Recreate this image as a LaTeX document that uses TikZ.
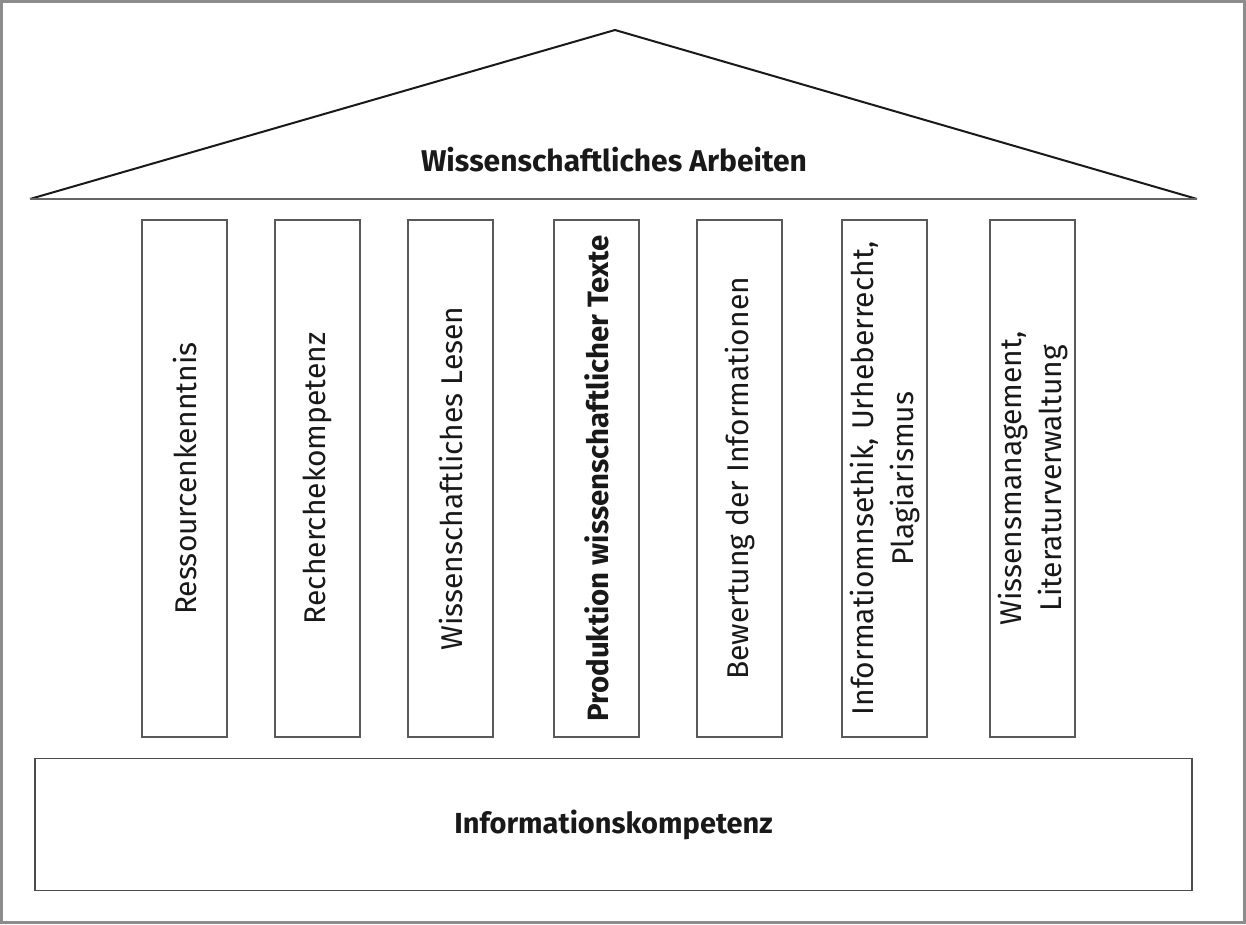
\documentclass[tikz,border=0pt]{standalone}
\usepackage{fontspec}
\setmainfont{Fira Sans}
\begin{document}
\begin{tikzpicture}[x=0.5pt,y=-0.5pt,
  frame/.style={draw=black!45,line width=1.5pt},
  roofline/.style={draw=black!90,line width=1pt,line join=miter},
  pillar/.style={draw=black!65,line width=0.8pt,minimum width=42.5pt,minimum height=258.5pt,inner sep=0pt},
  ptext/.style={rotate=90,font=\fontsize{15}{20}\selectfont,align=center,text=black!90},
  btext/.style={font=\fontsize{15}{18}\selectfont\bfseries,text=black!90},
  basebox/.style={draw=black!70,line width=0.9pt,minimum width=578.5pt,minimum height=66pt,inner sep=0pt}
]
\useasboundingbox (0,0) rectangle (1246,925);
\draw[frame] (1.5,1.5) rectangle (1244.5,922.5);
% roof
\coordinate (rl) at (30,199);
\coordinate (rp) at (615,30);
\coordinate (rr) at (1197,199);
\draw[roofline] (rl) -- (rp) -- (rr);
\draw[draw=black!60,line width=1pt] (rl) -- (rr);
\node[btext] (title) at (614,160) {Wissenschaftliches Arbeiten};
% pillars
\node[pillar] (p1) at (184.5,478.5) {};
\node[pillar] (p2) at (317.5,478.5) {};
\node[pillar] (p3) at (450.5,478.5) {};
\node[pillar] (p4) at (596.5,478.5) {};
\node[pillar] (p5) at (739.5,478.5) {};
\node[pillar] (p6) at (884.5,478.5) {};
\node[pillar] (p7) at (1032.5,478.5) {};
\node[ptext] (t1) at (p1) {Ressourcenkenntnis};
\node[ptext] (t2) at (p2) {Recherchekompetenz};
\node[ptext] (t3) at (p3) {Wissenschaftliches Lesen};
\node[ptext,font=\fontsize{14.7}{20}\selectfont\bfseries] (t4) at (p4) {Produktion wissenschaftlicher Texte};
\node[ptext] (t5) at (p5) {Bewertung der Informationen};
\node[ptext] (t6) at (p6) {Informatiomnsethik, Urheberrecht,\\Plagiarismus};
\node[ptext] (t7) at (p7) {Wissensmanagement,\\Literaturverwaltung};
% base
\node[basebox] (base) at (613.5,824.5) {};
\node[btext,font=\fontsize{14.5}{18}\selectfont\bfseries] (btitle) at (base) {Informationskompetenz};
\end{tikzpicture}
\end{document}
